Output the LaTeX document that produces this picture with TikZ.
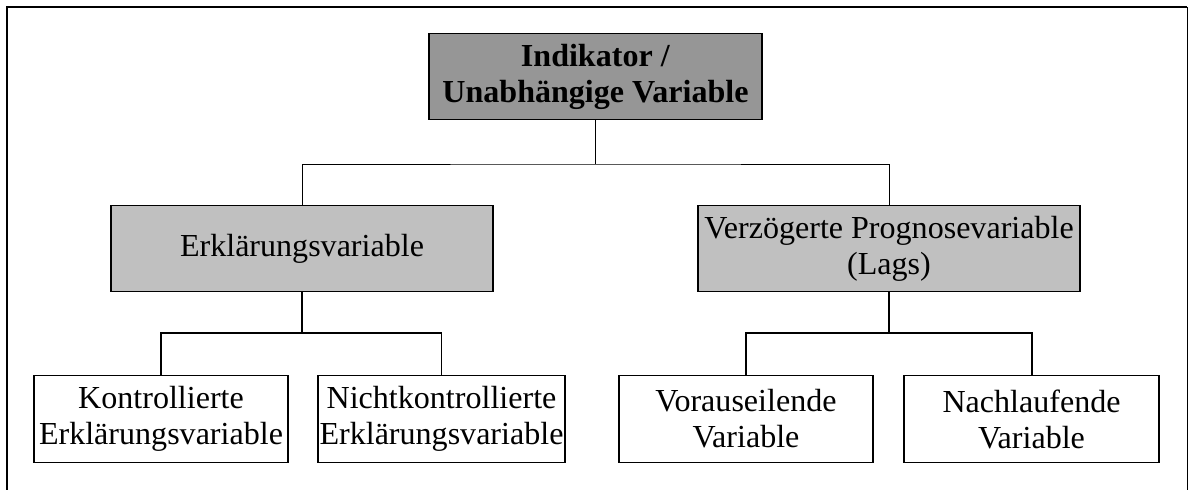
\documentclass[tikz,border=0pt]{standalone}
\usepackage{fontspec}
\setmainfont{Liberation Serif}
\usepackage{tikz}
\usetikzlibrary{positioning,calc}
\definecolor{BoxDark}{HTML}{969696}
\definecolor{BoxLight}{HTML}{C0C0C0}

\begin{document}
\begin{tikzpicture}[x=0.025cm,y=-0.025cm,
    every node/.style={font=\fontsize{22.8}{25.6}\selectfont,align=center,inner sep=0pt},
    box/.style={draw,line width=1pt,rectangle,minimum height=2.16cm},
    link/.style={line width=0.7pt},
    sublink/.style={line width=1.4pt}]
      \useasboundingbox (0,0) rectangle (1188,490);
      \draw[line width=1.4pt] (7,490) -- (7,7) -- (1187,7);
      \draw[line width=0.7pt] (1187,7) -- (1187,490);

      \node[box,fill=BoxDark,minimum width=8.33cm] (ind) at (595.5,76.5) {\textbf{Indikator /}\\\textbf{Unabhängige Variable}};

      \node[box,fill=BoxLight,minimum width=9.55cm] (erkl) at (302,248.5) {Erklärungsvariable};
      \node[box,fill=BoxLight,minimum width=9.55cm] (lags) at (889,248.5) {Verzögerte Prognosevariable\\(Lags)};

      \node[box,minimum width=6.35cm] (kontr) at (161,419) {Kontrollierte\\Erklärungsvariable};
      \node[box,minimum width=6.18cm] (nicht) at (441.5,419) {Nichtkontrollierte\\Erklärungsvariable};
      \node[box,minimum width=6.35cm] (vor) at (746,419) {Vorauseilende\\Variable};
      \node[box,minimum width=6.38cm] (nach) at (1031.5,419) {Nachlaufende\\Variable};

      \coordinate (jtop) at (595.5,164);
      \coordinate (jerkl) at (302,333);
      \coordinate (jlags) at (889,333);

      \draw[link] (ind.south) -- (jtop);
      \draw[link] (erkl.north) |- (jtop) -| (lags.north);

      \draw[sublink] (erkl.south) -- (jerkl);
      \draw[sublink] (kontr.north) |- (jerkl) -| (nicht.north);
      \draw[sublink] (lags.south) -- (jlags);
      \draw[sublink] (vor.north) |- (jlags) -| (nach.north);
    \end{tikzpicture}
\end{document}
